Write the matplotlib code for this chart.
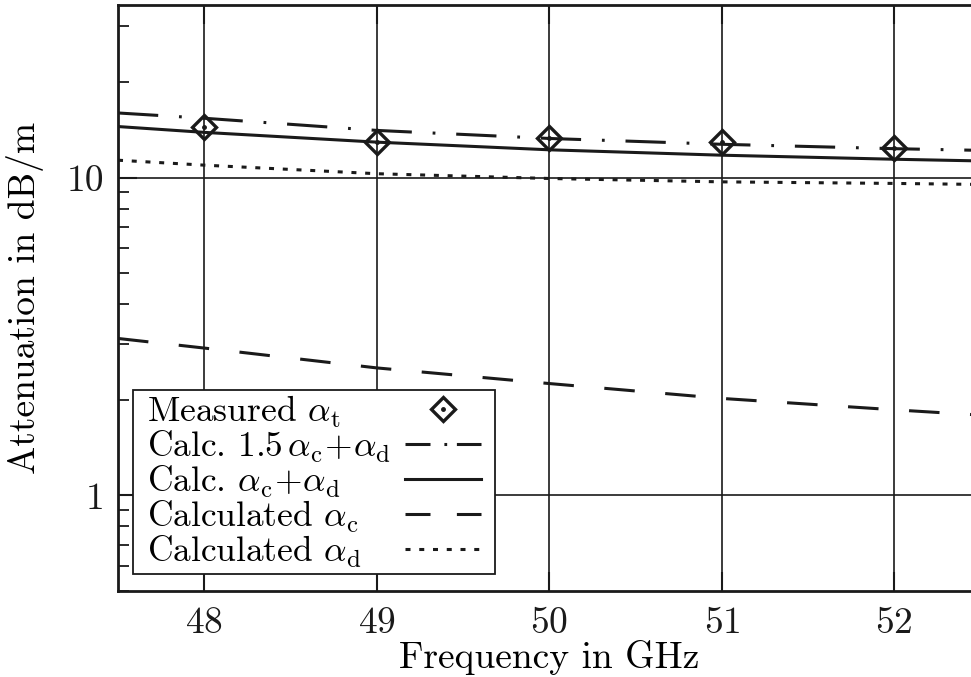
import numpy as np
import matplotlib
matplotlib.use("Agg")
import matplotlib.pyplot as plt
from matplotlib.ticker import LogLocator, FixedLocator, FuncFormatter, NullFormatter
from matplotlib.legend_handler import HandlerTuple
from matplotlib.offsetbox import HPacker, DrawingArea

plt.rcParams['font.family'] = 'serif'
plt.rcParams['font.serif'] = ['cmr10']
plt.rcParams['mathtext.fontset'] = 'cm'
plt.rcParams['axes.formatter.use_mathtext'] = True
plt.rcParams['lines.scale_dashes'] = False

# frequencies (GHz) and attenuation values (dB/m)
freq = [47.5, 48, 49, 50, 51, 52, 52.5]
calc_15c_d = [16.0, 15.4, 14.1, 13.3, 12.75, 12.35, 12.2]
calc_c_d = [14.5, 13.9, 12.95, 12.25, 11.78, 11.44, 11.3]
calc_c = [3.12, 2.91, 2.52, 2.25, 2.02, 1.86, 1.79]
calc_d = [11.36, 10.96, 10.3, 9.95, 9.71, 9.6, 9.53]

meas_freq = [48, 49, 50, 51, 52]
meas_t = [14.45, 12.97, 13.35, 12.97, 12.45]

fs = 27
ink = '#1a1a1a'
fig = plt.figure(figsize=(9.71, 6.77), dpi=100)
ax = fig.add_axes([118 / 971, 86 / 677, 862.5 / 971, 586 / 677])

lw = 2.2
l1, = ax.plot(freq, calc_15c_d, color=ink, lw=lw, dashes=(29, 15, 2, 15),
              dash_capstyle='butt')
l2, = ax.plot(freq, calc_c_d, color=ink, lw=lw)
l3, = ax.plot(freq, calc_c, color=ink, lw=lw, dashes=(22, 22),
              dash_capstyle='butt')
l4, = ax.plot(freq, calc_d, color=ink, lw=lw, dashes=(3.6, 6.3),
              dash_capstyle='butt')
m1, = ax.plot(meas_freq, meas_t, ls='none', marker='D', ms=12.5, mfc='none',
              mec=ink, mew=2.4, zorder=5)
m2, = ax.plot(meas_freq, meas_t, ls='none', marker='o', ms=2.5, color=ink, zorder=6)

ax.set_yscale('log')
ax.set_xlim(47.5, 52.5)
ax.set_ylim(0.5, 35)

ax.xaxis.set_major_locator(FixedLocator([48, 49, 50, 51, 52]))
ax.yaxis.set_major_locator(FixedLocator([1, 10]))
ax.yaxis.set_major_formatter(FuncFormatter(lambda v, p: '%d' % v))
ax.yaxis.set_minor_locator(LogLocator(base=10, subs=np.arange(2, 10)))
ax.yaxis.set_minor_formatter(NullFormatter())

ax.grid(True, which='major', color=ink, lw=1.2)
ax.tick_params(which='major', direction='in', length=14, width=1.5,
               top=True, right=False, labelsize=fs, colors=ink)
ax.tick_params(axis='x', which='major', pad=11)
ax.tick_params(axis='y', which='major', pad=10)
ax.tick_params(which='minor', direction='in', length=8, width=1.3,
               left=True, right=False, colors=ink)
for s in ax.spines.values():
    s.set_linewidth(2)
    s.set_color(ink)

ax.set_xlabel('Frequency in GHz', fontsize=fs, labelpad=0)
ax.set_ylabel('Attenuation in dB/m', fontsize=fs, labelpad=16)

labels = [r'Measured $\alpha_{\mathrm{t}}$',
          r'Calc. $1.5\,\alpha_{\mathrm{c}}\!+\!\alpha_{\mathrm{d}}$',
          r'Calc. $\alpha_{\mathrm{c}}\!+\!\alpha_{\mathrm{d}}$',
          r'Calculated $\alpha_{\mathrm{c}}$',
          r'Calculated $\alpha_{\mathrm{d}}$']
lfs = 25.5
leg = ax.legend([(m1, m2), l1, l2, l3, l4], labels,
                handler_map={tuple: HandlerTuple(ndivide=1, pad=0)},
                loc='lower left', bbox_to_anchor=(0.0174, 0.029),
                borderaxespad=0, markerfirst=False, fontsize=lfs,
                fancybox=False, framealpha=1, edgecolor=ink,
                handlelength=2.15, labelspacing=-0.03, borderpad=0.12,
                handletextpad=0.4)
leg.get_frame().set_linewidth(1.3)

# shorter dash patterns in the legend samples
leg_lines = leg.get_lines()
leg_lines[1].set_dashes((18, 10, 2, 7))
leg_lines[3].set_dashes((18, 19))

# left-align the labels, keep the handles in one column on the right,
# and add some extra horizontal room inside the frame
fig.canvas.draw()
renderer = fig.canvas.get_renderer()
col = leg._legend_handle_box.get_children()[0]
items = col.get_children()
w = max(it.get_bbox(renderer).width for it in items)
rows = []
for it in items:
    it.mode = 'expand'
    it.width = w
    rows.append(HPacker(pad=0, sep=0, align='baseline',
                        children=[DrawingArea(7, 1), it, DrawingArea(7, 1)]))
col._children = rows

fig.savefig('out.png', dpi=100)
